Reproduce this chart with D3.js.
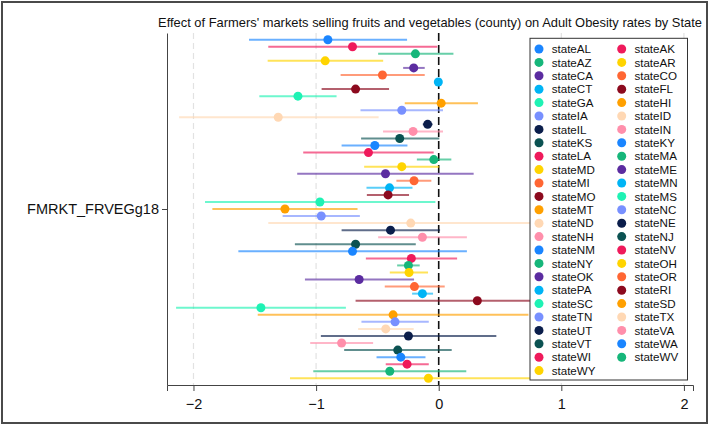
<!DOCTYPE html>
<html>
<head>
<meta charset="utf-8">
<script src="https://cdn.jsdelivr.net/npm/d3@7"></script>
<style>
  body { margin: 0; background: #fff; }
  svg { display: block; font-family: 'Liberation Sans', Arial, sans-serif; }
</style>
</head>
<body>
<div id="chart"></div>
<script>
// state dummies, in plotting order (top to bottom)
const states = ['AL', 'AK', 'AZ', 'AR', 'CA', 'CO', 'CT', 'FL', 'GA', 'HI', 'IA', 'ID', 'IL', 'IN', 'KS',
  'KY', 'LA', 'MA', 'MD', 'ME', 'MI', 'MN', 'MO', 'MS', 'MT', 'NC', 'ND', 'NE', 'NH', 'NJ',
  'NM', 'NV', 'NY', 'OH', 'OK', 'OR', 'PA', 'RI', 'SC', 'SD', 'TN', 'TX', 'UT', 'VA', 'VT',
  'WA', 'WI', 'WV', 'WY']

// point estimates and 95% CI bounds
const estimate = [-0.904, -0.703, -0.19, -0.926, -0.204, -0.459, -0.003, -0.678, -1.148, 0.02, -0.301, -1.309, -0.09, -0.209, -0.318,
  -0.521, -0.573, -0.04, -0.301, -0.434, -0.201, -0.401, -0.413, -0.969, -1.254, -0.958, -0.228, -0.393, -0.133, -0.678,
  -0.703, -0.223, -0.247, -0.242, -0.649, -0.198, -0.133, 0.315, -1.45, -0.372, -0.356, -0.432, -0.247, -0.792, -0.334,
  -0.309, -0.258, -0.399, -0.084]
const lower = [-1.547, -1.39, -0.494, -1.395, -0.29, -0.8, -0.012, -0.955, -1.463, -0.277, -0.638, -2.117, -0.13, -0.454, -0.633,
  -0.792, -1.105, -0.178, -0.608, -1.154, -0.345, -0.589, -0.586, -1.906, -1.846, -1.273, -1.39, -0.792, -0.494, -1.173,
  -1.634, -0.594, -0.339, -0.399, -1.091, -0.44, -0.217, -0.678, -2.142, -1.476, -0.63, -0.657, -0.961, -1.048, -0.771,
  -0.507, -0.432, -1.023, -1.213]
const upper = [-0.258, -0.011, 0.12, -0.453, -0.114, -0.114, 0.006, -0.405, -0.833, 0.32, 0.035, -0.49, -0.05, 0.035, 0.005,
  -0.255, -0.041, 0.103, 0.004, 0.285, -0.06, -0.214, -0.242, -0.027, -0.662, -0.643, 0.934, 0.011, 0.23, -0.187,
  0.23, 0.15, -0.155, -0.087, -0.201, 0.049, -0.046, 1.31, -0.757, 0.732, -0.081, -0.204, 0.47, -0.535, 0.106,
  -0.108, -0.081, 0.225, 1.045]

const xTicks = [-2, -1, 0, 1, 2]
const yLabel = 'FMRKT_FRVEGg18'
const title = "Effect of Farmers' markets selling fruits and vegetables (county) on Adult Obesity rates by State"

// colour cycle, repeats every 15 states
const palette = ['#1a85ff', '#ef1a5b', '#16b67a', '#ffd400', '#5b2ca0', '#ff6633', '#00b4f5', '#8c0a1e',
  '#1ef2b4', '#ffa000', '#7890ff', '#ffd8b4', '#0b1e4b', '#ff8fab', '#0b5252']

const fullWidth = 712
const fullHeight = 430
const margin = {top: 33, right: 19, bottom: 45, left: 167}
const width = fullWidth - margin.left - margin.right
const height = fullHeight - margin.top - margin.bottom

const data = states.map(function(s, i) {
  return {name: 'state' + s, est: estimate[i], lo: lower[i], hi: upper[i], color: palette[i % palette.length]}
})

const svg = d3.select('#chart').append('svg')
  .attr('width', fullWidth)
  .attr('height', fullHeight)

// outer frame
svg.append('rect')
  .attr('x', 2).attr('y', 2)
  .attr('width', 705).attr('height', 421)
  .attr('fill', 'none')
  .attr('stroke', '#4a4a4a')
  .attr('stroke-width', 2)

const g = svg.append('g')
  .attr('transform', 'translate(' + margin.left + ',' + margin.top + ')')

// scales
const x = d3.scaleLinear().domain([-2.216, 2.074]).range([0, width])
const y = d3.scalePoint().domain(states).range([0, height]).padding(0.95)
const yCat = d3.scalePoint().domain([yLabel]).range([0, height]).padding(0.5)

// title
svg.append('text')
  .attr('x', margin.left + width / 2)
  .attr('y', 27)
  .attr('text-anchor', 'middle')
  .style('font-size', '12.9px')
  .attr('fill', '#111')
  .text(title)

// dashed grid lines
g.append('g')
  .selectAll('line')
  .data(xTicks.filter(function(t) { return t !== 0 }))
  .join('line')
  .attr('x1', function(d) { return x(d) })
  .attr('x2', function(d) { return x(d) })
  .attr('y1', 0)
  .attr('y2', height)
  .attr('stroke', '#e2e2e2')
  .attr('stroke-width', 1.2)
  .attr('stroke-dasharray', '6,4')

// zero reference line
g.append('line')
  .attr('x1', x(0)).attr('x2', x(0))
  .attr('y1', 0).attr('y2', height)
  .attr('stroke', '#111')
  .attr('stroke-width', 1.6)
  .attr('stroke-dasharray', '8,4')

// confidence intervals
g.append('g')
  .selectAll('line')
  .data(data)
  .join('line')
  .attr('x1', function(d) { return x(d.lo) })
  .attr('x2', function(d) { return x(d.hi) })
  .attr('y1', function(d, i) { return y(states[i]) })
  .attr('y2', function(d, i) { return y(states[i]) })
  .attr('stroke', function(d) { return d.color })
  .attr('stroke-opacity', 0.65)
  .attr('stroke-width', 2)

// point estimates
g.append('g')
  .selectAll('circle')
  .data(data)
  .join('circle')
  .attr('cx', function(d) { return x(d.est) })
  .attr('cy', function(d, i) { return y(states[i]) })
  .attr('r', 4.5)
  .attr('fill', function(d) { return d.color })

// axes
const xAxis = g.append('g')
  .attr('transform', 'translate(0,' + height + ')')
  .call(d3.axisBottom(x).tickValues(xTicks).tickSize(6).tickPadding(8)
    .tickFormat(function(d) { return d < 0 ? '\u2212' + Math.abs(d) : d }))
xAxis.select('.domain').attr('stroke', '#444')
xAxis.selectAll('.tick line').attr('stroke', '#444')
xAxis.selectAll('text').style('font-size', '14.5px').attr('fill', '#111')

const yAxis = g.append('g')
  .call(d3.axisLeft(yCat).tickSize(5).tickPadding(3).tickSizeOuter(0))
yAxis.select('.domain').attr('stroke', '#444')
yAxis.selectAll('.tick line').attr('stroke', '#444')
yAxis.selectAll('text').style('font-size', '14.5px').attr('fill', '#111')

// legend, two columns
const legX = 530
const legY = 38.3
const rowH = 13.4
const legend = svg.append('g')
legend.append('rect')
  .attr('x', legX).attr('y', legY)
  .attr('width', 157.5).attr('height', 341.7)
  .attr('fill', '#fff')
  .attr('stroke', '#333')
  .attr('stroke-width', 1)

const item = legend.selectAll('g.item')
  .data(data)
  .join('g')
  .attr('class', 'item')
  .attr('transform', function(d, i) {
    const col = i % 2
    const row = Math.floor(i / 2)
    return 'translate(' + (legX + 9 + col * 82.7) + ',' + (legY + 10.7 + row * rowH) + ')'
  })
item.append('circle')
  .attr('r', 4.5)
  .attr('fill', function(d) { return d.color })
item.append('text')
  .attr('x', 12.7)
  .attr('dy', '0.36em')
  .style('font-size', '11.6px')
  .attr('fill', '#111')
  .text(function(d) { return d.name })
</script>
</body>
</html>
